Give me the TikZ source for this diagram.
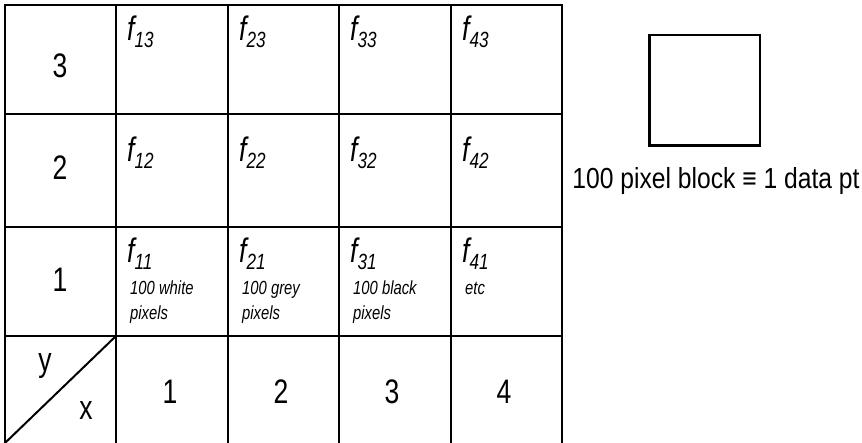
\documentclass[tikz,border=0pt]{standalone}
\usepackage{fontspec}
\setmainfont[FakeStretch=0.85]{Liberation Sans}
\newfontfamily\narrowfont[FakeStretch=0.78]{Liberation Sans}
\newcommand{\fsub}[1]{{\narrowfont\fontsize{34}{34}\selectfont\itshape f}\raisebox{-7pt}{\narrowfont\fontsize{22}{22}\selectfont\itshape #1}}
\begin{document}
\begin{tikzpicture}[x=1pt,y=-1pt,
  gridline/.style={line width=2pt, line cap=rect},
  big/.style={anchor=base, inner sep=0pt, font=\narrowfont\fontsize{34}{34}\selectfont},
  flab/.style={anchor=base west, inner sep=0pt},
  note/.style={anchor=base west, inner sep=0pt, font=\narrowfont\fontsize{19}{19}\selectfont\itshape},
  blockbox/.style={draw, line width=2.5pt, minimum size=110.5pt, inner sep=0pt}]
\useasboundingbox (0,0) rectangle (862,443);
% grid
\foreach \yy in {5,114,227,336} \draw[gridline] (5,\yy) -- (562,\yy);
\foreach \xx in {5,116,228,339,451,562} \draw[gridline] (\xx,5) -- (\xx,450);
\coordinate (dA) at (5,443);
\coordinate (dB) at (116,336);
\draw[line width=2pt] (dA) -- (dB);
% row labels
\node[big] (r3) at (60,78) {3};
\node[big] (r2) at (60,180) {2};
\node[big] (r1) at (60,292) {1};
\node[big] (cy) at (45,372) {y};
\node[big] (cx) at (86,420) {x};
\node[big] (c1) at (170,403) {1};
\node[big] (c2) at (281,403) {2};
\node[big] (c3) at (392,403) {3};
\node[big] (c4) at (504,403) {4};
% f labels
\node[flab] (f13) at (127,41) {\fsub{13}};
\node[flab] (f23) at (239,41) {\fsub{23}};
\node[flab] (f33) at (350,41) {\fsub{33}};
\node[flab] (f43) at (462,41) {\fsub{43}};
\node[flab] (f12) at (127,162) {\fsub{12}};
\node[flab] (f22) at (239,162) {\fsub{22}};
\node[flab] (f32) at (350,162) {\fsub{32}};
\node[flab] (f42) at (462,162) {\fsub{42}};
\node[flab] (f11) at (127,263) {\fsub{11}};
\node[flab] (f21) at (239,263) {\fsub{21}};
\node[flab] (f31) at (350,263) {\fsub{31}};
\node[flab] (f41) at (462,263) {\fsub{41}};
\node[note] (n1a) at (130,295) {100 white};
\node[note] (n1b) at (130,320) {pixels};
\node[note] (n2a) at (242,295) {100 grey};
\node[note] (n2b) at (242,320) {pixels};
\node[note] (n3a) at (353,295) {100 black};
\node[note] (n3b) at (353,320) {pixels};
\node[note] (n4a) at (465,295) {etc};
% block
\node[blockbox] (blk) at (704.5,90.5) {};
\node[anchor=base, inner sep=0pt, font=\fontsize{29}{29}\selectfont] (lbl) at (716,189) {100 pixel block ≡ 1 data pt};
\end{tikzpicture}
\end{document}
